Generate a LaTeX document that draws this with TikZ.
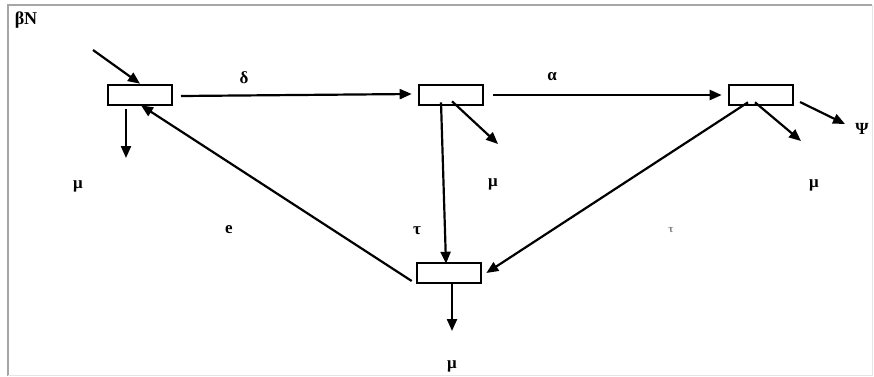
\documentclass[tikz,border=0pt]{standalone}
\usepackage{fontspec}
\setmainfont{Liberation Serif}
\usetikzlibrary{arrows.meta}
\begin{document}
\begin{tikzpicture}[x=1pt,y=-1pt,
  stock/.style={draw,line width=2.6pt,minimum width=64pt,minimum height=20pt,inner sep=0pt},
  flow/.style={line width=2.2pt,-{Triangle[length=12pt,width=10pt]}},
  lbl/.style={font=\bfseries\fontsize{17}{19}\selectfont,inner sep=1pt}]
\useasboundingbox (0,0) rectangle (874,376);
\draw[gray!70,line width=2.5pt] (8,376) -- (8,5) -- (872,5);
\draw[gray!20,line width=1pt] (872,5) -- (872,375) -- (8,375);
\node[lbl,font=\bfseries\fontsize{18}{20}\selectfont] (bn) at (26,20) {βN};
\node[stock] (b1) at (140,95) {};
\node[stock] (b2) at (451,95) {};
\node[stock] (b3) at (761,95) {};
\node[stock] (b4) at (449,273) {};
\coordinate (in1) at (93,50);
\coordinate (m1) at (126,158);
\coordinate (m2) at (498,144);
\coordinate (m3) at (801,141);
\coordinate (psi) at (845,124);
\coordinate (m4) at (452,331);
\coordinate (s1) at (181,96);
\coordinate (s2) at (493,95);
\coordinate (p3) at (800,102);
\draw[flow] (in1) -- (b1.north);
\draw[flow] (b1.south -| m1) ++(0,3) -- (m1);
\draw[flow] (s1) -- ([xshift=-6pt,yshift=1pt]b2.west);
\draw[flow] (s2) -- ([xshift=-6pt]b3.west);
\draw[flow] ([xshift=1pt,yshift=5pt]b2.south) -- (m2);
\draw[flow] ([xshift=-10pt,yshift=4pt]b2.south) -- ([xshift=-3pt,yshift=-2pt]b4.north);
\draw[flow] (p3) -- (psi);
\draw[flow] ([xshift=-6pt,yshift=4pt]b3.south) -- (m3);
\draw[flow] ([xshift=-13pt,yshift=4pt]b3.south) -- ([xshift=4pt]b4.east);
\draw[flow] ([xshift=-4pt,yshift=-8pt]b4.west) -- ([xshift=1pt,yshift=1pt]b1.south);
\draw[flow] ([xshift=3pt,yshift=2pt]b4.south) -- (m4);
\node[lbl] (l1) at (78,186) {μ};
\node[lbl] (l2) at (493,184) {μ};
\node[lbl] (l3) at (814,185) {μ};
\node[lbl] (l4) at (452,366) {μ};
\node[lbl] (lpsi) at (862,129) {Ψ};
\node[lbl] (ld) at (244,78) {δ};
\node[lbl] (la) at (552,77) {α};
\node[lbl] (le) at (229,230) {e};
\node[lbl] (lt) at (417,231) {τ};
\node[lbl,text=gray,font=\bfseries\fontsize{11}{12}\selectfont] (lt2) at (671,230) {τ};
\end{tikzpicture}
\end{document}
